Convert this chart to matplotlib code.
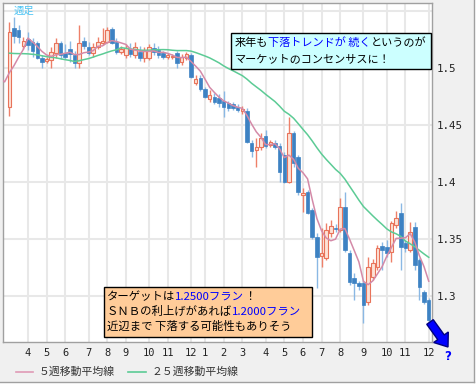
import numpy as np
import pandas as pd
import matplotlib
matplotlib.use('Agg')
import matplotlib.pyplot as plt
from matplotlib.patches import Rectangle, FancyArrow

plt.rcParams['font.family'] = ['Noto Sans CJK JP', 'DejaVu Sans']

# weekly candles, one per week (open / high / low / close)
opens = [1.466, 1.535, 1.533, 1.519, 1.525, 1.523, 1.522, 1.509, 1.506, 1.507,
         1.513, 1.522, 1.513, 1.517, 1.511, 1.504, 1.524, 1.518, 1.513, 1.518,
         1.522, 1.523, 1.534, 1.523, 1.514, 1.511, 1.5165, 1.511, 1.514, 1.509,
         1.509, 1.5175, 1.516, 1.513, 1.510, 1.5095, 1.513, 1.505, 1.509, 1.511,
         1.487, 1.491, 1.482, 1.473, 1.475, 1.474, 1.471, 1.469, 1.468, 1.466,
         1.462, 1.462, 1.434, 1.428, 1.431, 1.440, 1.4325, 1.434, 1.432, 1.424,
         1.400, 1.443, 1.422, 1.389, 1.391, 1.3755, 1.352, 1.3355, 1.3335, 1.3555,
         1.360, 1.358, 1.378, 1.338, 1.3158, 1.3114, 1.3114, 1.2947, 1.3167, 1.3255,
         1.3439, 1.343, 1.3386, 1.3623, 1.3728, 1.3465, 1.3404, 1.3605, 1.3316, 1.3035,
         1.2965]
highs = [1.540, 1.545, 1.538, 1.527, 1.532, 1.526, 1.524, 1.511, 1.510, 1.518,
         1.526, 1.524, 1.521, 1.524, 1.515, 1.538, 1.527, 1.523, 1.522, 1.527,
         1.535, 1.536, 1.536, 1.526, 1.519, 1.521, 1.522, 1.523, 1.519, 1.518,
         1.521, 1.522, 1.519, 1.515, 1.513, 1.512, 1.515, 1.512, 1.514, 1.513,
         1.494, 1.494, 1.483, 1.481, 1.478, 1.477, 1.480, 1.471, 1.470, 1.468,
         1.467, 1.465, 1.437, 1.439, 1.443, 1.446, 1.437, 1.437, 1.434, 1.426,
         1.457, 1.445, 1.424, 1.395, 1.393, 1.377, 1.355, 1.3595, 1.364, 1.367,
         1.363, 1.386, 1.391, 1.340, 1.3202, 1.3132, 1.314, 1.3342, 1.3325, 1.345,
         1.347, 1.349, 1.366, 1.3746, 1.3816, 1.349, 1.365, 1.365, 1.3334, 1.3053,
         1.2983]
lows = [1.458, 1.522, 1.522, 1.517, 1.516, 1.510, 1.508, 1.500, 1.504, 1.500,
        1.509, 1.508, 1.508, 1.505, 1.500, 1.500, 1.517, 1.511, 1.510, 1.517,
        1.520, 1.522, 1.521, 1.512, 1.512, 1.509, 1.510, 1.509, 1.506, 1.505,
        1.507, 1.511, 1.509, 1.508, 1.508, 1.508, 1.500, 1.503, 1.507, 1.491,
        1.485, 1.480, 1.474, 1.470, 1.468, 1.466, 1.457, 1.462, 1.463, 1.461,
        1.460, 1.434, 1.422, 1.413, 1.428, 1.430, 1.431, 1.429, 1.400, 1.399,
        1.399, 1.413, 1.389, 1.374, 1.372, 1.350, 1.307, 1.3255, 1.332, 1.352,
        1.356, 1.356, 1.339, 1.310, 1.2965, 1.3053, 1.2764, 1.2921, 1.314, 1.323,
        1.3228, 1.334, 1.330, 1.3597, 1.3228, 1.3386, 1.3386, 1.3228, 1.2965, 1.293,
        1.2772]
closes = [1.532, 1.528, 1.527, 1.524, 1.520, 1.515, 1.509, 1.505, 1.508, 1.514,
          1.522, 1.511, 1.510, 1.512, 1.504, 1.522, 1.519, 1.513, 1.518, 1.523,
          1.524, 1.533, 1.522, 1.514, 1.517, 1.5175, 1.512, 1.518, 1.509, 1.516,
          1.518, 1.514, 1.511, 1.510, 1.511, 1.5105, 1.504, 1.510, 1.512, 1.492,
          1.490, 1.482, 1.475, 1.476, 1.470, 1.469, 1.466, 1.465, 1.465, 1.463,
          1.464, 1.435, 1.427, 1.431, 1.439, 1.432, 1.435, 1.431, 1.409, 1.400,
          1.443, 1.417, 1.391, 1.390, 1.373, 1.352, 1.334, 1.3375, 1.358, 1.361,
          1.359, 1.378, 1.340, 1.312, 1.3114, 1.3088, 1.2921, 1.3255, 1.329, 1.3421,
          1.3404, 1.3378, 1.3641, 1.3684, 1.343, 1.3421, 1.3562, 1.3272, 1.308, 1.2947,
          1.279]
# closes of the weeks before the first candle (they only feed the moving averages)
pre_closes = [1.535, 1.530, 1.525, 1.524, 1.525, 1.520, 1.526, 1.526,
              1.528, 1.535, 1.532, 1.530, 1.5285, 1.527,
              1.505, 1.495, 1.490, 1.4855, 1.487,
              1.492, 1.497, 1.490, 1.490, 1.470]

month_pos = [4, 8, 12, 17, 21, 25, 30, 34, 39, 42, 46, 50, 55, 59, 63, 67, 71, 76, 81, 85, 90]
month_labels = ['4', '5', '6', '7', '8', '9', '10', '11', '12', '1', '2', '3',
                '4', '5', '6', '7', '8', '9', '10', '11', '12']
price_ticks = [1.3, 1.35, 1.4, 1.45, 1.5, 1.55]
price_labels = ['1.3', '1.35', '1.4', '1.45', '1.5', '']

W, H = 477, 386
fig = plt.figure(figsize=(W / 100, H / 100), dpi=100, facecolor='#f0f0f0')
ax = fig.add_axes([3 / W, (H - 342) / H, 429 / W, 339 / H], facecolor='white')

x = np.arange(len(closes))
o = np.array(opens)
h = np.array(highs)
l = np.array(lows)
c = np.array(closes)
up = c >= o

ax.vlines(x[up], l[up], h[up], color='#ee8069', lw=1, zorder=2)
ax.vlines(x[~up], l[~up], h[~up], color='#8ab8e4', lw=1, zorder=2)
ax.bar(x[up], (c - o)[up], bottom=o[up], width=0.75, color='#fde2d6',
       edgecolor='#e8735a', lw=0.8, zorder=3)
ax.bar(x[~up], (o - c)[~up], bottom=c[~up], width=0.75, color='#3d82c3',
       edgecolor='#3d82c3', lw=0.5, zorder=3)

allc = pd.Series(pre_closes + closes)
idx = np.arange(-len(pre_closes), len(closes))
ma5 = allc.rolling(5).mean()
ma25 = allc.rolling(25).mean()
ax.plot(idx, ma25, color='#5ccb95', lw=1.1, zorder=4)
ax.plot(idx, ma5, color='#d48aa8', lw=1.1, zorder=4)

ax.set_xlim(-1.35, 90.7)
ax.set_ylim(1.2597, 1.557)
ax.set_xticks(month_pos)
ax.set_xticklabels(month_labels, family='DejaVu Sans Mono', fontsize=7.5, color='#222222')
ax.set_yticks(price_ticks)
ax.set_yticklabels(price_labels, family='DejaVu Sans Mono', fontsize=7.8, color='#222222')
ax.yaxis.tick_right()
ax.tick_params(axis='both', length=0)
ax.tick_params(axis='x', pad=4)
ax.tick_params(axis='y', pad=3.5)
ax.grid(True, color='#e8e8e8', lw=1.5)
ax.set_axisbelow(True)
for s in ax.spines.values():
    s.set_color('#a0a0a0')
    s.set_linewidth(1)

# overlay in pixel coordinates for notes, legend and arrow
ov = fig.add_axes([0, 0, 1, 1], facecolor='none')
ov.set_xlim(0, W)
ov.set_ylim(H, 0)
ov.axis('off')

ov.plot([474.5, 474.5], [0, 382], color='#a0a0a0', lw=1)
ov.plot([0, 474.5], [382, 382], color='#a0a0a0', lw=1)
ov.add_patch(Rectangle((475, 0), 2, H, fc='white', ec='none'))
ov.add_patch(Rectangle((0, 382.5), W, 4, fc='white', ec='none'))

ov.text(14, 11, '週足', color='#4cc4f4', fontsize=7.5, va='center')

renderer = fig.canvas.get_renderer()


def line_parts(x0, y0, parts, size):
    for s, col in parts:
        t = ov.text(x0, y0, s, color=col, fontsize=size, va='center', ha='left')
        x0 += t.get_window_extent(renderer).width


ov.add_patch(Rectangle((231.5, 33), 199.5, 35.5, fc='#ccffff', ec='black', lw=1))
line_parts(235, 42.5, [('来年も', 'black'), ('下落トレンドが 続く', '#0000ff'),
                       ('というのが', 'black')], 8)
line_parts(235, 59.5, [('マーケットのコンセンサスに！', 'black')], 8)

ov.add_patch(Rectangle((104.5, 287), 208, 50, fc='#ffcc99', ec='black', lw=1))
line_parts(107, 296.5, [('ターゲットは', 'black'), ('1.2500フラン', '#0000ff'),
                        ('！', 'black')], 8.2)
line_parts(107, 311.5, [('ＳＮＢの利上げがあれば', 'black'), ('1.2000フラン', '#0000ff')], 8.2)
line_parts(107, 326.5, [('近辺まで 下落する可能性もありそう', 'black')], 8.2)

ov.add_patch(FancyArrow(430, 322, 18, 25, width=8, head_width=18, head_length=12,
                        length_includes_head=True, fc='#0000ff', ec='#000080', lw=1))
ov.text(448, 356, '?', color='#0000ff', fontsize=8.5, fontweight='bold',
        family='DejaVu Sans', ha='center', va='center')

ov.plot([16, 33], [371.5, 371.5], color='#e09ab6', lw=1.2)
ov.text(39, 371.5, '５週移動平均線', fontsize=7.8, color='#333333', va='center')
ov.plot([128, 146], [371.5, 371.5], color='#5ccb95', lw=1.2)
ov.text(152, 371.5, '２５週移動平均線', fontsize=7.8, color='#333333', va='center')

fig.savefig('out.png', dpi=100, facecolor=fig.get_facecolor())
